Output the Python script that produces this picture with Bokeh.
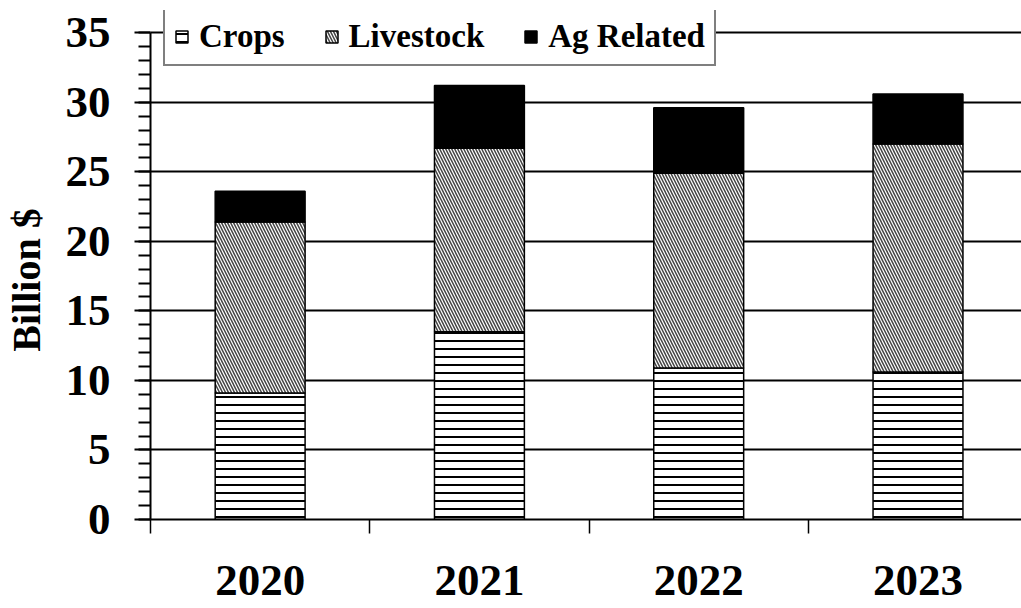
from bokeh.plotting import figure
from bokeh.models import (Range1d, FixedTicker, LinearAxis, Legend, LegendItem,
                          ColumnDataSource)
from bokeh.embed import file_html
from bokeh.resources import INLINE

years = ["2020", "2021", "2022", "2023"]
crops = [9.1, 13.5, 10.9, 10.6]
livestock = [12.3, 13.2, 14.0, 16.4]
ag_related = [2.2, 4.5, 4.7, 3.6]
y_ticks = [0, 5, 10, 15, 20, 25, 30, 35]
y_minor = list(range(0, 36))

FONT = "Liberation Serif"

xc = [i + 0.5 for i in range(len(years))]
c_top = crops
l_top = [c + l for c, l in zip(crops, livestock)]
a_top = [t + a for t, a in zip(l_top, ag_related)]
src = ColumnDataSource(dict(x=xc, c0=[0] * len(xc), c1=c_top, l1=l_top, a1=a_top))

# frame reaches a little above 35 so the legend can sit over the top gridline
p = figure(width=1021, height=608, output_backend="svg", toolbar_location=None,
           x_range=Range1d(0, 3.972), y_range=Range1d(0, 36.6),
           min_border_left=150, min_border_right=0, min_border_top=10,
           min_border_bottom=89)
p.outline_line_color = None
p.background_fill_color = "white"
p.border_fill_color = "white"

bw = 0.41
r_c = p.vbar(x="x", bottom="c0", top="c1", width=bw, source=src,
             fill_color="white", line_color="black", line_width=1.5,
             hatch_pattern="horizontal_line", hatch_scale=8, hatch_weight=2,
             hatch_color="black")
r_l = p.vbar(x="x", bottom="c1", top="l1", width=bw, source=src,
             fill_color="white", line_color="black", line_width=1.5,
             hatch_pattern="left_diagonal_line", hatch_scale=6, hatch_weight=1.5,
             hatch_color="#444444")
r_a = p.vbar(x="x", bottom="l1", top="a1", width=bw, source=src,
             fill_color="black", line_color="black", line_width=1.5)

# y axis
yt = FixedTicker(ticks=y_ticks, minor_ticks=y_minor)
ya = p.yaxis[0]
ya.ticker = yt
ya.bounds = (0, 35)
ya.axis_line_width = 2
ya.major_tick_out = 16
ya.major_tick_in = 0
ya.minor_tick_out = 12
ya.minor_tick_in = 0
ya.major_tick_line_width = 2
ya.minor_tick_line_width = 2
ya.major_label_text_font = FONT
ya.major_label_text_font_style = "bold"
ya.major_label_text_font_size = "45px"
ya.major_label_text_color = "black"
ya.major_label_standoff = 24
# trailing no-break spaces keep the title centred on the 0-35 span
ya.axis_label = "Billion $\u00a0\u00a0\u00a0"
ya.axis_label_text_font = FONT
ya.axis_label_text_font_style = "bold"
ya.axis_label_text_font_size = "40px"
ya.axis_label_text_color = "black"
ya.axis_label_standoff = 14

p.ygrid.ticker = yt
p.ygrid.grid_line_color = "black"
p.ygrid.grid_line_width = 2
p.xgrid.visible = False

# x axis: boundary ticks
xa = p.xaxis[0]
xa.ticker = FixedTicker(ticks=[0, 1, 2, 3], minor_ticks=[])
xa.major_label_overrides = {0: "", 1: "", 2: "", 3: ""}
xa.major_label_text_font_size = "1px"
xa.major_label_standoff = 0
xa.axis_line_width = 2
xa.major_tick_out = 14
xa.major_tick_in = 0
xa.major_tick_line_width = 1.5

# x axis: year labels
xa2 = LinearAxis(ticker=FixedTicker(ticks=xc, minor_ticks=[]),
                 major_label_overrides={x: y for x, y in zip(xc, years)})
xa2.axis_line_color = None
xa2.major_tick_line_color = None
xa2.minor_tick_line_color = None
xa2.major_label_text_font = FONT
xa2.major_label_text_font_style = "bold"
xa2.major_label_text_font_size = "45px"
xa2.major_label_text_color = "black"
xa2.major_label_standoff = 26
p.add_layout(xa2, "below")

legend = Legend(items=[LegendItem(label="Crops", renderers=[r_c]),
                       LegendItem(label="Livestock", renderers=[r_l]),
                       LegendItem(label="Ag Related", renderers=[r_a])],
                orientation="horizontal", location=(13, 453))
legend.label_text_font = FONT
legend.label_text_font_style = "bold"
legend.label_text_font_size = "33px"
legend.label_text_color = "black"
legend.label_height = 36
legend.glyph_width = 15
legend.glyph_height = 15
legend.label_standoff = 10
legend.spacing = 39
legend.padding = 9
legend.margin = 0
legend.border_line_color = "black"
legend.border_line_width = 2
legend.background_fill_alpha = 1
p.add_layout(legend, "center")

open("out.html", "w").write(file_html(p, INLINE))
